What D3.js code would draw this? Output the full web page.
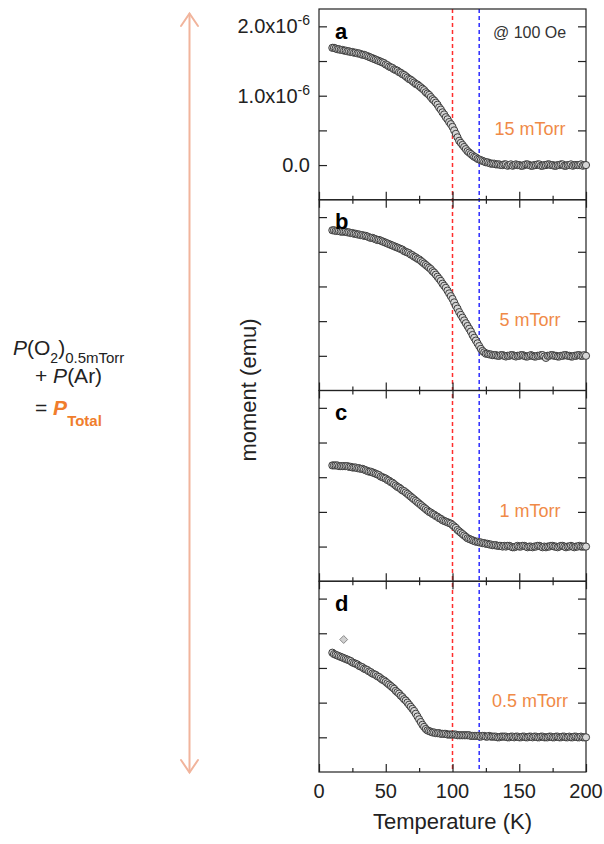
<!DOCTYPE html>
<html>
<head>
<meta charset="utf-8">
<script src="https://cdn.jsdelivr.net/npm/d3@7"></script>
<style>
  html, body { margin: 0; padding: 0; background: #fff; }
  svg { display: block; font-family: "Liberation Sans", Arial, sans-serif; }
</style>
</head>
<body>
<svg id="chart" width="604" height="844"></svg>
<script>
// Temperature grid (K) shared by all four field-cooled moment curves; one row per 10 K
const temps = [
  10, 11.25, 12.5, 13.75, 15, 16.25, 17.5, 18.75,
  20, 21.25, 22.5, 23.75, 25, 26.25, 27.5, 28.75,
  30, 31.25, 32.5, 33.75, 35, 36.25, 37.5, 38.75,
  40, 41.25, 42.5, 43.75, 45, 46.25, 47.5, 48.75,
  50, 51.25, 52.5, 53.75, 55, 56.25, 57.5, 58.75,
  60, 61.25, 62.5, 63.75, 65, 66.25, 67.5, 68.75,
  70, 71.25, 72.5, 73.75, 75, 76.25, 77.5, 78.75,
  80, 81.25, 82.5, 83.75, 85, 86.25, 87.5, 88.75,
  90, 91.25, 92.5, 93.75, 95, 96.25, 97.5, 98.75,
  100, 101.25, 102.5, 103.75, 105, 106.25, 107.5, 108.75,
  110, 111.25, 112.5, 113.75, 115, 116.25, 117.5, 118.75,
  120, 121.25, 122.5, 123.75, 125, 126.25, 127.5, 128.75,
  130, 131.25, 132.5, 133.75, 135, 136.25, 137.5, 138.75,
  140, 141.25, 142.5, 143.75, 145, 146.25, 147.5, 148.75,
  150, 151.25, 152.5, 153.75, 155, 156.25, 157.5, 158.75,
  160, 161.25, 162.5, 163.75, 165, 166.25, 167.5, 168.75,
  170, 171.25, 172.5, 173.75, 175, 176.25, 177.5, 178.75,
  180, 181.25, 182.5, 183.75, 185, 186.25, 187.5, 188.75,
  190, 191.25, 192.5, 193.75, 195, 196.25, 197.5, 198.75,
  200
];

// Moment in units of 1e-6 emu
const moment15mTorr = [
  1.69, 1.69, 1.68, 1.67, 1.67, 1.66, 1.66, 1.65,
  1.65, 1.64, 1.64, 1.63, 1.63, 1.62, 1.62, 1.61,
  1.61, 1.60, 1.59, 1.59, 1.58, 1.57, 1.56, 1.55,
  1.54, 1.53, 1.52, 1.51, 1.50, 1.49, 1.48, 1.47,
  1.45, 1.44, 1.42, 1.41, 1.40, 1.38, 1.37, 1.36,
  1.34, 1.33, 1.31, 1.30, 1.28, 1.26, 1.24, 1.23,
  1.21, 1.19, 1.17, 1.16, 1.14, 1.12, 1.10, 1.08,
  1.05, 1.03, 1.01, 0.98, 0.95, 0.93, 0.90, 0.87,
  0.83, 0.80, 0.76, 0.73, 0.69, 0.66, 0.62, 0.59,
  0.55, 0.50, 0.45, 0.40, 0.35, 0.32, 0.29, 0.26,
  0.23, 0.20, 0.18, 0.16, 0.14, 0.12, 0.11, 0.09,
  0.08, 0.07, 0.06, 0.05, 0.04, 0.04, 0.03, 0.02,
  0.02, 0.02, 0.01, 0.01, 0.01, 0.00, 0.00, 0.01,
  0.01, -0.01, 0.00, 0.01, -0.01, 0.00, 0.01, 0.00,
  0.00, -0.01, -0.01, 0.00, 0.01, 0.01, 0.00, -0.01,
  -0.01, 0.00, 0.00, 0.01, 0.01, -0.01, -0.01, 0.00,
  0.00, 0.01, 0.01, 0.00, 0.00, -0.01, -0.01, 0.00,
  0.00, 0.01, 0.01, -0.01, -0.01, 0.00, 0.00, 0.01,
  -0.01, 0.00, 0.00, 0.00, 0.00, 0.01, -0.01, 0.00,
  0.00
];
const moment5mTorr = [
  1.81, 1.81, 1.80, 1.80, 1.80, 1.79, 1.79, 1.79,
  1.79, 1.78, 1.78, 1.77, 1.77, 1.76, 1.76, 1.75,
  1.75, 1.74, 1.74, 1.73, 1.73, 1.72, 1.71, 1.70,
  1.70, 1.69, 1.68, 1.67, 1.67, 1.66, 1.65, 1.64,
  1.63, 1.62, 1.61, 1.60, 1.59, 1.58, 1.57, 1.56,
  1.55, 1.54, 1.53, 1.51, 1.50, 1.49, 1.48, 1.46,
  1.45, 1.43, 1.42, 1.40, 1.39, 1.37, 1.35, 1.33,
  1.31, 1.29, 1.27, 1.25, 1.22, 1.20, 1.17, 1.14,
  1.11, 1.08, 1.04, 1.01, 0.98, 0.94, 0.90, 0.86,
  0.82, 0.77, 0.72, 0.68, 0.63, 0.59, 0.55, 0.51,
  0.47, 0.43, 0.39, 0.35, 0.30, 0.26, 0.22, 0.18,
  0.14, 0.10, 0.07, 0.05, 0.03, 0.03, 0.02, 0.02,
  0.01, 0.01, 0.01, 0.00, 0.00, 0.01, 0.01, 0.00,
  -0.01, 0.00, 0.00, 0.01, 0.01, 0.00, -0.01, 0.00,
  0.00, 0.01, 0.01, 0.00, -0.01, -0.01, 0.00, 0.01,
  0.00, -0.01, -0.01, 0.00, 0.00, 0.01, 0.01, -0.01,
  -0.03, 0.00, 0.00, 0.01, 0.01, 0.00, 0.00, -0.01,
  -0.01, 0.00, 0.00, 0.01, 0.01, 0.00, 0.00, -0.01,
  -0.01, 0.00, 0.00, 0.01, 0.01, 0.00, 0.00, 0.01,
  0.00
];
const moment1mTorr = [
  1.17, 1.17, 1.17, 1.17, 1.16, 1.16, 1.16, 1.16,
  1.16, 1.16, 1.15, 1.15, 1.14, 1.14, 1.14, 1.13,
  1.13, 1.12, 1.12, 1.11, 1.10, 1.09, 1.08, 1.08,
  1.07, 1.06, 1.05, 1.04, 1.03, 1.01, 1.00, 0.99,
  0.98, 0.96, 0.95, 0.93, 0.92, 0.90, 0.88, 0.86,
  0.85, 0.83, 0.81, 0.80, 0.78, 0.76, 0.74, 0.72,
  0.70, 0.68, 0.66, 0.64, 0.62, 0.60, 0.58, 0.56,
  0.54, 0.52, 0.50, 0.49, 0.47, 0.46, 0.44, 0.43,
  0.41, 0.40, 0.38, 0.37, 0.36, 0.35, 0.34, 0.33,
  0.31, 0.29, 0.27, 0.24, 0.22, 0.20, 0.18, 0.16,
  0.14, 0.12, 0.11, 0.10, 0.09, 0.08, 0.07, 0.07,
  0.06, 0.06, 0.05, 0.05, 0.04, 0.04, 0.03, 0.03,
  0.02, 0.02, 0.02, 0.01, 0.01, 0.01, 0.00, 0.01,
  0.00, 0.01, 0.01, 0.00, -0.01, -0.01, 0.00, 0.01,
  0.00, 0.00, 0.01, 0.01, 0.00, -0.01, 0.00, 0.00,
  -0.01, 0.00, 0.00, 0.01, 0.01, 0.00, -0.01, 0.00,
  -0.01, 0.00, 0.00, 0.01, 0.01, 0.00, 0.00, -0.01,
  0.00, 0.01, 0.01, 0.00, -0.01, 0.00, 0.00, 0.01,
  0.00, -0.01, 0.00, 0.00, 0.01, 0.00, 0.00, 0.00,
  0.00
];
const moment05mTorr = [
  1.22, 1.20, 1.19, 1.18, 1.17, 1.16, 1.15, 1.14,
  1.13, 1.12, 1.11, 1.10, 1.08, 1.07, 1.06, 1.05,
  1.03, 1.02, 1.01, 0.99, 0.98, 0.97, 0.95, 0.94,
  0.92, 0.91, 0.90, 0.88, 0.87, 0.85, 0.83, 0.82,
  0.80, 0.78, 0.76, 0.74, 0.72, 0.70, 0.67, 0.65,
  0.63, 0.60, 0.58, 0.55, 0.53, 0.50, 0.47, 0.44,
  0.41, 0.38, 0.34, 0.30, 0.26, 0.22, 0.18, 0.15,
  0.12, 0.10, 0.09, 0.08, 0.07, 0.07, 0.06, 0.06,
  0.06, 0.05, 0.05, 0.05, 0.05, 0.04, 0.04, 0.04,
  0.04, 0.04, 0.04, 0.03, 0.03, 0.03, 0.03, 0.03,
  0.03, 0.03, 0.03, 0.02, 0.02, 0.02, 0.02, 0.02,
  0.02, 0.01, 0.02, 0.02, 0.01, 0.01, 0.02, 0.01,
  0.01, 0.01, 0.01, 0.00, 0.00, 0.01, 0.01, 0.01,
  0.01, 0.00, 0.00, 0.01, 0.01, 0.00, 0.01, 0.01,
  0.00, 0.00, 0.01, 0.01, 0.00, 0.00, 0.01, 0.01,
  0.00, 0.01, 0.01, 0.00, 0.00, 0.01, 0.01, 0.00,
  0.00, 0.00, 0.01, 0.01, 0.00, 0.00, 0.01, 0.01,
  0.00, 0.00, 0.01, 0.01, 0.00, 0.00, 0.01, 0.00,
  0.00, 0.01, 0.01, 0.00, 0.00, 0.01, 0.00, 0.00,
  0.00
];
// Single stray point in the 0.5 mTorr run
const outlier05mTorr = [{ T: 18.5, m: 1.41 }];

const panelLetters = ["a", "b", "c", "d"];
const pressureLabels = ["15 mTorr", "5 mTorr", "1 mTorr", "0.5 mTorr"];
const yTickValues = [0, 0.5, 1, 1.5, 2];
const yTickLabels = [
  { v: 0, base: "0.0", exp: "" },
  { v: 1, base: "1.0x10", exp: "-6" },
  { v: 2, base: "2.0x10", exp: "-6" }
];
const xMajorTicks = [0, 50, 100, 150, 200];
const xMinorTicks = [25, 75, 125, 175];
const transitionTemps = [100, 120];
const fieldLabel = "@ 100 Oe";

// ---- layout ----
const svg = d3.select("#chart");
const left = 319, right = 586, top0 = 9, bottom = 772;
const series = [moment15mTorr, moment5mTorr, moment1mTorr, moment05mTorr];
const nP = series.length;
const ph = (bottom - top0) / nP;
const ink = "#222";
const orange = "#f08a47";

const x = d3.scaleLinear().domain([0, 200]).range([left, right]);
const yFor = i => d3.scaleLinear().domain([-0.5, 2.25]).range([top0 + (i + 1) * ph, top0 + i * ph]);

function styleAxis(g) {
  g.select(".domain").remove();
  g.selectAll(".tick line").attr("stroke", ink).attr("stroke-width", 1.2);
  g.selectAll(".tick text").remove();
}

// dashed transition markers through all panels
const dashColors = ["#ff2d2d", "#2d2dff"];
svg.append("g").selectAll("line")
  .data(transitionTemps)
  .join("line")
  .attr("x1", d => x(d)).attr("x2", d => x(d))
  .attr("y1", top0).attr("y2", bottom)
  .attr("stroke", (d, i) => dashColors[i])
  .attr("stroke-width", 1.5)
  .attr("stroke-dasharray", "4,3");

series.forEach((vals, i) => {
  const y = yFor(i);
  const t = top0 + i * ph;
  const g = svg.append("g");

  // ticks (all inward)
  g.append("g").attr("transform", `translate(${left},0)`)
    .call(d3.axisLeft(y).tickValues(yTickValues).tickSizeInner(-8).tickSizeOuter(0)).call(styleAxis);
  g.append("g").attr("transform", `translate(${right},0)`)
    .call(d3.axisRight(y).tickValues(yTickValues).tickSizeInner(-8).tickSizeOuter(0)).call(styleAxis);
  g.append("g").attr("transform", `translate(0,${t + ph})`)
    .call(d3.axisBottom(x).tickValues(xMajorTicks).tickSizeInner(-8).tickSizeOuter(0)).call(styleAxis);
  g.append("g").attr("transform", `translate(0,${t + ph})`)
    .call(d3.axisBottom(x).tickValues(xMinorTicks).tickSizeInner(-4).tickSizeOuter(0)).call(styleAxis);
  if (i > 0) {
    g.append("g").attr("transform", `translate(0,${t})`)
      .call(d3.axisTop(x).tickValues(xMajorTicks).tickSizeInner(-8).tickSizeOuter(0)).call(styleAxis);
    g.append("g").attr("transform", `translate(0,${t})`)
      .call(d3.axisTop(x).tickValues(xMinorTicks).tickSizeInner(-4).tickSizeOuter(0)).call(styleAxis);
  }

  // frame
  g.append("rect")
    .attr("x", left).attr("y", t).attr("width", right - left).attr("height", ph)
    .attr("fill", "none").attr("stroke", ink).attr("stroke-width", 1.2);

  // data
  g.append("g").selectAll("circle")
    .data(temps.map((T, k) => ({ T, m: vals[k] })))
    .join("circle")
    .attr("cx", d => x(d.T)).attr("cy", d => y(d.m)).attr("r", 3.6)
    .attr("fill", "#d6d6d6").attr("stroke", "#3c3c3c").attr("stroke-width", 1);

  if (i === 3) {
    g.append("g").selectAll("path")
      .data(outlier05mTorr)
      .join("path")
      .attr("transform", d => `translate(${x(d.T)},${y(d.m)})`)
      .attr("d", d3.symbol(d3.symbolDiamond2, 40))
      .attr("fill", "#d0d0d0").attr("stroke", "#8a8a8a").attr("stroke-width", 1);
  }

  // panel letter
  g.append("text").attr("x", 335).attr("y", t + 29.5)
    .attr("font-size", 22).attr("font-weight", "bold").attr("fill", "#000")
    .text(panelLetters[i]);

  // sputtering pressure
  g.append("text").attr("x", 530).attr("y", t + 126)
    .attr("text-anchor", "middle").attr("font-size", 18).attr("fill", orange)
    .text(pressureLabels[i]);

  // y tick labels on the top panel only
  if (i === 0) {
    yTickLabels.forEach(l => {
      const tx = g.append("text").attr("x", 310).attr("y", y(l.v) + 7)
        .attr("text-anchor", "end").attr("font-size", 20).attr("fill", ink);
      tx.append("tspan").text(l.base);
      if (l.exp) tx.append("tspan").attr("font-size", 14).attr("dy", -8).text(l.exp);
    });
  }
});

// field annotation
svg.append("text").attr("x", 493).attr("y", 38)
  .attr("font-size", 16).attr("fill", "#333").text(fieldLabel);

// x tick labels
svg.append("g").selectAll("text")
  .data(xMajorTicks)
  .join("text")
  .attr("x", d => x(d)).attr("y", 798)
  .attr("text-anchor", "middle").attr("font-size", 20).attr("fill", ink)
  .text(d => d);

// axis titles
svg.append("text").attr("x", (left + right) / 2).attr("y", 829)
  .attr("text-anchor", "middle").attr("font-size", 22).attr("fill", ink)
  .text("Temperature (K)");
svg.append("text").attr("transform", "translate(256,390) rotate(-90)")
  .attr("text-anchor", "middle").attr("font-size", 22).attr("fill", ink)
  .text("moment (emu)");

// double-headed arrow spanning the pressure series
const arrowColor = "#f1b49c";
const ax = 189.5;
const arrow = svg.append("g").attr("stroke", arrowColor).attr("stroke-width", 2).attr("fill", "none")
  .attr("stroke-linecap", "round");
arrow.append("line").attr("x1", ax).attr("x2", ax).attr("y1", 14).attr("y2", 772);
arrow.append("path").attr("d", `M${ax - 8.5},26 L${ax},13.5 L${ax + 8.5},26`);
arrow.append("path").attr("d", `M${ax - 8.5},760 L${ax},772.5 L${ax + 8.5},760`);

// total-pressure relation
const eq = svg.append("g").attr("font-size", 21).attr("fill", ink);
const l1 = eq.append("text").attr("x", 13).attr("y", 355);
l1.append("tspan").attr("font-style", "italic").text("P");
l1.append("tspan").text("(O");
l1.append("tspan").attr("font-size", 14).attr("dy", 8).text("2");
l1.append("tspan").attr("dy", -8).text(")");
l1.append("tspan").attr("font-size", 15).attr("dy", 8).text("0.5mTorr");

const l2 = eq.append("text").attr("x", 35).attr("y", 383);
l2.append("tspan").text("+ ");
l2.append("tspan").attr("font-style", "italic").text("P");
l2.append("tspan").text("(Ar)");

const l3 = eq.append("text").attr("x", 35).attr("y", 415);
l3.append("tspan").text("= ");
l3.append("tspan").attr("font-style", "italic").attr("font-weight", "bold").attr("fill", "#f07d2c").text("P");
l3.append("tspan").attr("font-size", 15).attr("font-weight", "bold").attr("fill", "#f07d2c").attr("dy", 11).text("Total");
</script>
</body>
</html>
